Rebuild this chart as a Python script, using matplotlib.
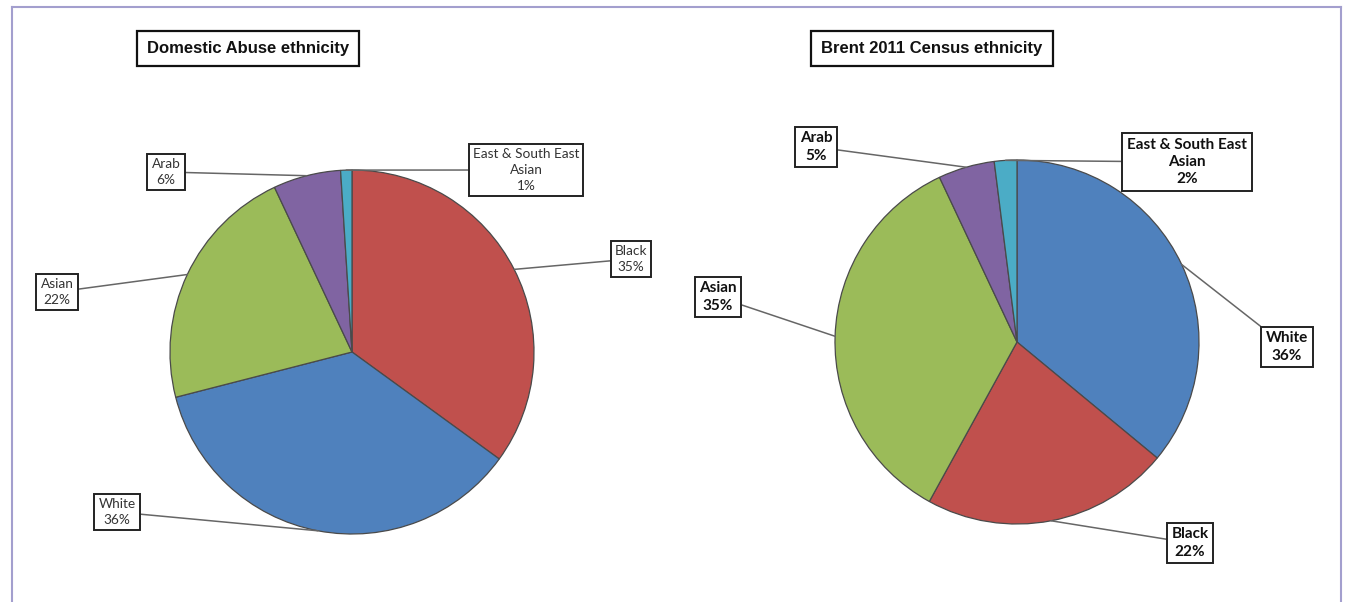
import matplotlib.pyplot as plt
from matplotlib.lines import Line2D
import numpy as np

# data
left_title = 'Domestic Abuse ethnicity'
left_names = ['Black', 'White', 'Asian', 'Arab', 'East & South East\nAsian']
left_values = [35, 36, 22, 6, 1]

right_title = 'Brent 2011 Census ethnicity'
right_names = ['White', 'Black', 'Asian', 'Arab', 'East & South East\nAsian']
right_values = [36, 22, 35, 5, 2]

colors = {'White': '#4F81BD', 'Black': '#C0504D', 'Asian': '#9BBB59',
          'Arab': '#8064A2', 'East & South East\nAsian': '#4BACC6'}

H = 602
fig = plt.figure(figsize=(13.47, 6.02), dpi=100)
ax = fig.add_axes([0, 0, 1, 1])

# label box centres in pixels (x, y from top)
left_boxes = [(631, 259), (117, 512), (57, 292), (166, 172), (526, 170)]
right_boxes = [(1287, 347), (1190, 543), (718, 297), (816, 147), (1187, 162)]


def draw_pie(names, values, center, boxes, fs, weight, tcolor, lsp):
    cx, cy = center
    wedges, _ = ax.pie(values, colors=[colors[n] for n in names], startangle=90,
                       counterclock=False, center=(cx, H - cy), radius=182,
                       wedgeprops=dict(edgecolor='#4a4a4a', linewidth=0.9))
    for w, n, v, (bx, by) in zip(wedges, names, values, boxes):
        mid = np.deg2rad((w.theta1 + w.theta2) / 2)
        px = cx + w.r * np.cos(mid)
        py = (H - cy) + w.r * np.sin(mid)
        ax.annotate('%s\n%d%%' % (n, v), xy=(px, py), xytext=(bx, H - by),
                    ha='center', va='center', fontsize=fs, fontweight=weight,
                    family='Lato', color=tcolor, linespacing=lsp,
                    bbox=dict(boxstyle='square,pad=0.3', fc='white', ec='#222222', lw=1.4),
                    arrowprops=dict(arrowstyle='-', color='#666666', lw=1.1,
                                    shrinkA=0, shrinkB=0))


draw_pie(left_names, left_values, (352, 352), left_boxes, 9.8, 'normal', '#333333', 1.35)
draw_pie(right_names, right_values, (1017, 342), right_boxes, 11, 'bold', '#111111', 1.3)

for title, tx in [(left_title, 248), (right_title, 932)]:
    ax.text(tx, H - 48, title, ha='center', va='center', fontsize=12, fontweight='bold',
            family=['Liberation Sans Narrow', 'Liberation Sans'], color='#111111',
            bbox=dict(boxstyle='square,pad=0.6', fc='white', ec='#111111', lw=1.6))

ax.set_xlim(0, 1347)
ax.set_ylim(0, H)
ax.set_aspect('auto')
ax.axis('off')

# outer frame
frame_color = '#a39fce'
fig.add_artist(Line2D([12 / 1347, 1341 / 1347], [1 - 7 / H, 1 - 7 / H], color=frame_color, lw=1.5))
fig.add_artist(Line2D([12 / 1347, 12 / 1347], [0, 1 - 7 / H], color=frame_color, lw=1.5))
fig.add_artist(Line2D([1341 / 1347, 1341 / 1347], [0, 1 - 7 / H], color=frame_color, lw=1.5))

fig.savefig('out.png', dpi=100)
